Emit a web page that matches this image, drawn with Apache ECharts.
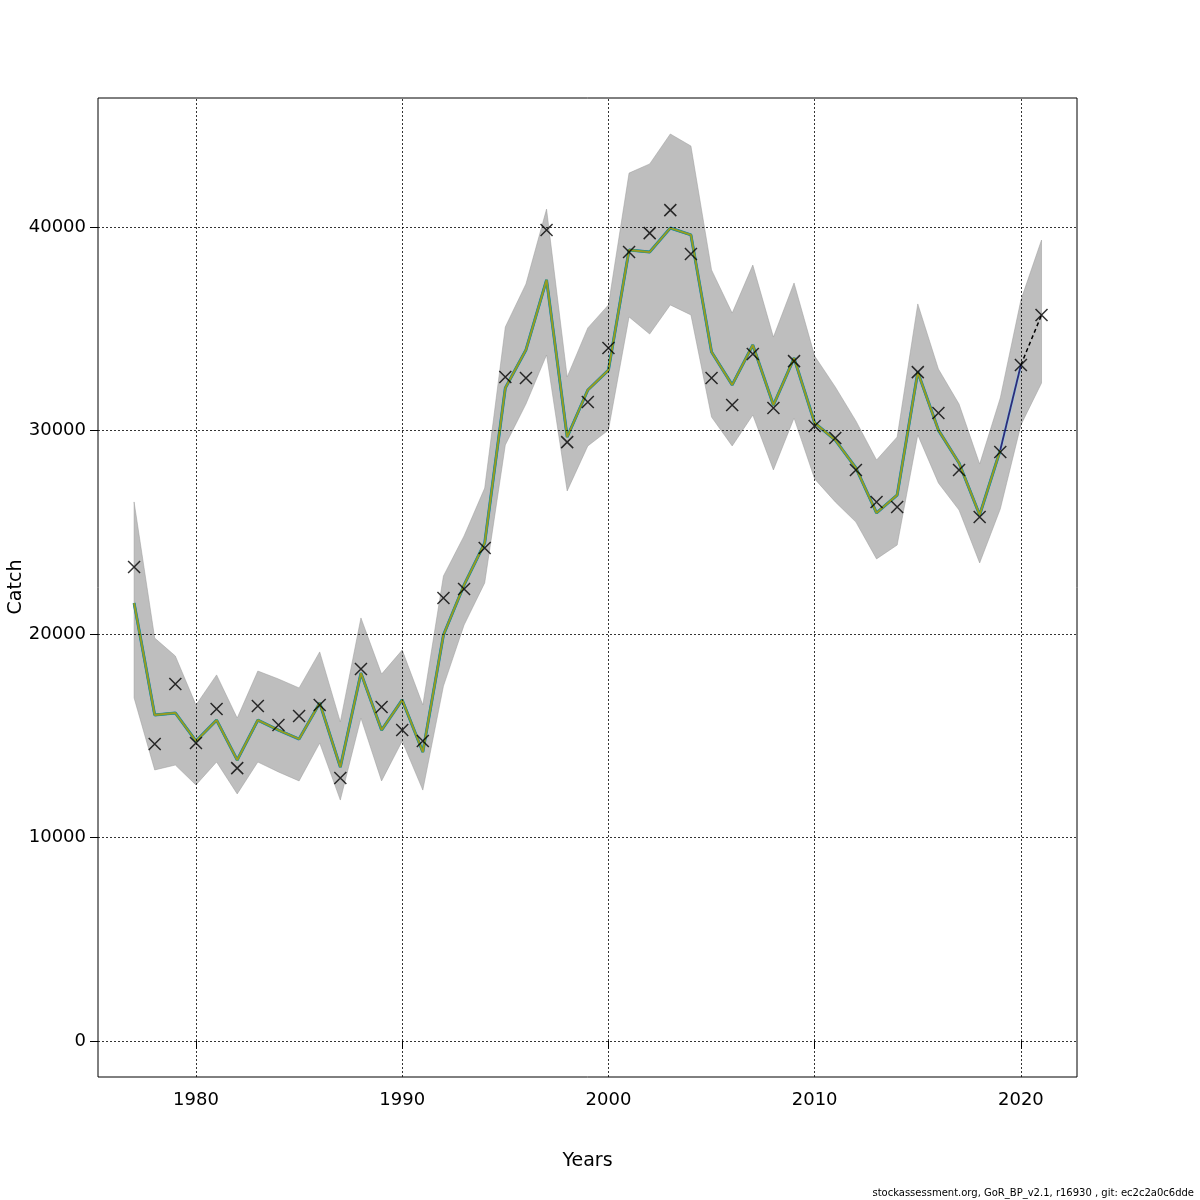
<!DOCTYPE html>
<html><head><meta charset="utf-8">
<script src="https://cdn.jsdelivr.net/npm/echarts@6/dist/echarts.min.js"></script>
<style>html,body{margin:0;padding:0;background:#fff}#c{width:1200px;height:1200px}</style>
</head><body><div id="c"></div>
<script>
const years=[];for(let y=1977;y<=2021;y++)years.push(y);
const observed=[23290,14590,17540,14640,16310,13410,16460,15530,15970,16510,12920,18280,16410,15280,14740,21770,22210,24230,32630,32580,39850,29430,31400,34050,38770,39700,40830,38670,32580,31250,33760,31110,33410,30220,29630,28060,26490,26240,32870,30860,28060,25750,28940,33220,35680];
const estimate=[21520,16020,16120,14740,15770,13810,15770,15280,14840,16610,13460,18080,15280,16760,14200,19950,22410,24470,32090,33960,37400,29680,31990,32970,38870,38770,39950,39610,33860,32240,34200,31250,33560,30370,29530,28160,25950,26830,32870,30020,28400,25850,29040,33220,35680];
const upper=[26490,19800,18920,16510,17990,15870,18180,17790,17350,19120,15680,20790,18030,19210,16510,22850,24820,27170,35090,37200,40880,32630,35040,36170,42650,43100,44570,43980,37890,35770,38130,34590,37250,33660,32140,30470,28550,29680,36220,33020,31300,28350,31600,36410,39360];
const lower=[16860,13320,13560,12580,13710,12140,13710,13220,12780,14640,11840,15870,12780,14740,12330,17440,20440,22510,29290,31300,33710,27030,29240,30020,35580,34740,36170,35680,30660,29240,30760,28060,30610,27620,26490,25500,23690,24370,29780,27420,26090,23490,26140,30270,32330];
const xTicks=[1980,1990,2000,2010,2020];
const yTicks=[0,10000,20000,30000,40000];

const pairs=a=>years.map((y,i)=>[y,a[i]]);
const n=years.length;
const fitted=pairs(estimate).slice(0,n-2);
const recent=pairs(estimate).slice(n-3,n-1);
const forecast=pairs(estimate).slice(n-2);
const bandData=years.map((y,i)=>[y,lower[i],upper[i]]);
const chart=echarts.init(document.getElementById('c'));
chart.setOption({
  animation:false,
  grid:{left:98,right:123,top:98,bottom:123,show:true,borderColor:'#000',borderWidth:1,containLabel:false,outerBoundsMode:'none'},
  xAxis:{type:'value',min:1975.25,max:2022.72,name:'Years',nameLocation:'middle',nameGap:75,
    nameTextStyle:{fontSize:19,color:'#000',fontFamily:'DejaVu Sans'},
    axisLine:{show:false},splitLine:{show:false},
    axisTick:{show:true,length:8,inside:false,customValues:xTicks,lineStyle:{color:'#000'}},
    axisLabel:{customValues:xTicks,formatter:v=>String(v),fontSize:18,color:'#000',margin:14,fontFamily:'DejaVu Sans'}},
  yAxis:{type:'value',min:-1769,max:46339,
    axisLine:{show:false},splitLine:{show:false},
    axisTick:{show:true,length:8,customValues:yTicks,lineStyle:{color:'#000'}},
    axisLabel:{customValues:yTicks,formatter:v=>String(v),fontSize:18,color:'#000',margin:12,fontFamily:'DejaVu Sans'}},
  series:[
    {type:'custom',data:bandData,silent:true,z:1,
     renderItem:(params,api)=>{
       if(params.dataIndex!==0)return;
       const pts=bandData.map(d=>api.coord([d[0],d[2]])).concat(bandData.slice().reverse().map(d=>api.coord([d[0],d[1]])));
       return {type:'polygon',shape:{points:pts},style:{fill:'#bebebe',stroke:'#9a9a9a',lineWidth:0.5}};
     }},
    {type:'line',data:[],z:2,markLine:{silent:true,symbol:'none',label:{show:false},lineStyle:{color:'#000',type:[2,2],width:0.8},
      data:xTicks.map(v=>({xAxis:v})).concat(yTicks.map(v=>({yAxis:v})))}},
    {type:'line',data:fitted,symbol:'none',z:3,lineStyle:{color:'#2b7fc0',width:3}},
    {type:'line',data:fitted,symbol:'none',z:3,lineStyle:{color:'#1b9e77',width:2.4}},
    {type:'line',data:fitted,symbol:'none',z:3,lineStyle:{color:'#9a9a20',width:1.8}},
    {type:'line',data:recent,symbol:'none',z:3,lineStyle:{color:'#9ecae1',width:3}},
    {type:'line',data:recent,symbol:'none',z:3,lineStyle:{color:'#2c2c7a',width:1.8}},
    {type:'line',data:forecast,symbol:'none',z:3,lineStyle:{color:'#000',width:1.5,type:[4,3]}},
    {type:'scatter',data:pairs(observed),symbol:'path://M0,0L10,10M10,0L0,10',symbolSize:12,
     itemStyle:{color:'none',borderColor:'#000',borderWidth:1.5},z:10}
  ],
  graphic:[
    {type:'text',x:16,y:587,rotation:Math.PI/2,style:{text:'Catch',fontSize:19,fill:'#000',fontFamily:'DejaVu Sans',align:'center',verticalAlign:'middle'}},
    {type:'text',right:6,bottom:2,style:{text:'stockassessment.org, GoR_BP_v2.1, r16930 , git: ec2c2a0c6dde',fontSize:10,fill:'#000',fontFamily:'DejaVu Sans'}}]
});
</script></body></html>
